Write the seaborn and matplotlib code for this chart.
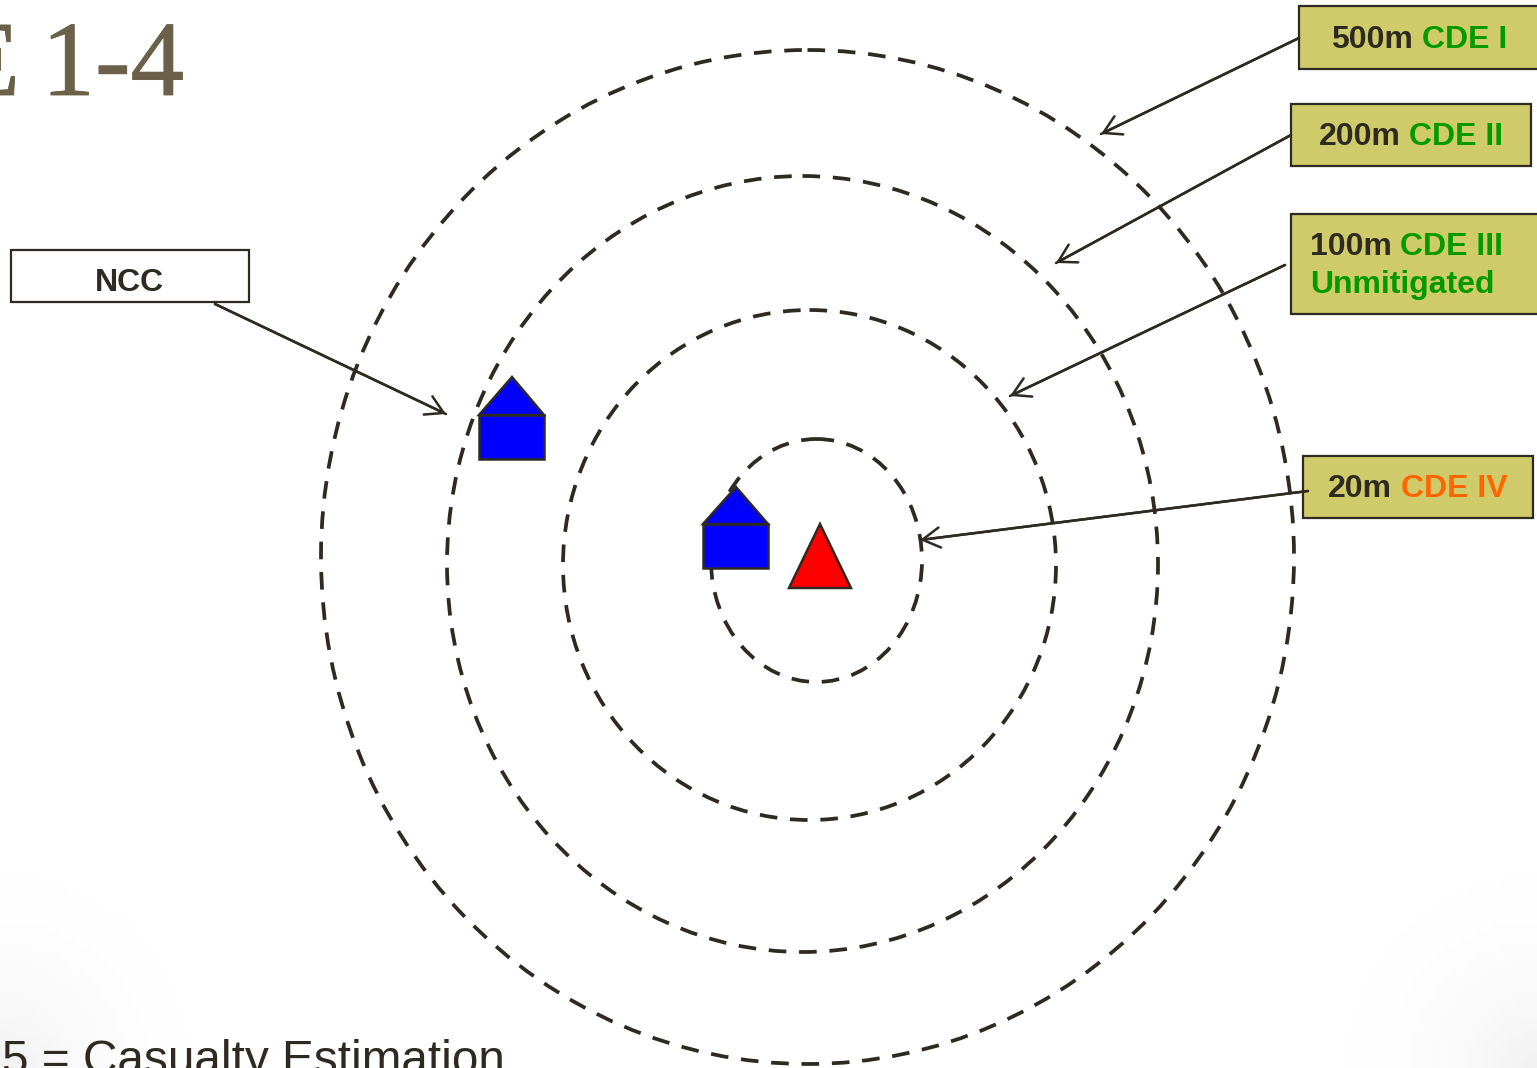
"""CDE ring diagram, drawn in pixel coordinates of the source slide."""

import matplotlib
matplotlib.use("Agg")
import matplotlib.patheffects as pe
import matplotlib.pyplot as plt
import numpy as np
import pandas as pd
import seaborn as sns
from matplotlib.colors import LinearSegmentedColormap
from matplotlib.patches import Ellipse, Polygon, Rectangle

# ── Data ──────────────────────────────────────────────────────────────────────

ring_x = [807.5, 802.5, 809.5, 816.5]
ring_y = [557, 564, 565, 560.5]
ring_rx = [486.5, 355.5, 246.5, 105.5]
ring_ry = [507, 388, 255, 121.5]

box_left = [1299, 1291, 1291, 1303, 11]
box_top = [6, 104, 214, 456, 250]
box_right = [1545, 1531, 1545, 1533, 249]
box_bottom = [69, 166, 314, 518, 302]
box_fill = ["#CFCB6B", "#CFCB6B", "#CFCB6B", "#CFCB6B", "#FFFFFF"]

label_text = ["500m", "CDE I", "200m", "CDE II", "100m", "CDE III", "Unmitigated", "20m", "CDE IV", "NCC"]
label_x = [1331, 1422, 1319, 1409, 1310, 1400, 1310, 1328, 1401, 95]
label_y = [48, 48, 145, 145, 255, 255, 293, 497, 497, 291]
label_color = ["ink", "green", "ink", "green", "ink", "green", "green", "ink", "orange", "ink"]

title_text = ["E", "1-4"]
title_right = [20, 184]

leader_start_x = [1299, 1291, 1285, 1308, 215]
leader_start_y = [38, 135, 265, 491, 304]
leader_tip_x = [1101, 1056, 1010, 920, 446]
leader_tip_y = [134, 263, 396, 540, 414]

house_left = [479, 703]
house_right = [544, 768]
house_eave = [415, 524]
house_floor = [459, 568]
house_apex_x = [512, 736]
house_apex_y = [377, 487]

target_x = [789, 851, 820]
target_y = [588, 588, 524]

INK = "#2F2A20"
COLORS = {"ink": INK, "green": "#009900", "orange": "#FF6600"}

# ── Figure ────────────────────────────────────────────────────────────────────

sns.set_theme(style="white")
plt.rcParams["font.family"] = ["Liberation Sans", "DejaVu Sans"]

fig = plt.figure(figsize=(15.37, 10.68), dpi=100)
ax = fig.add_axes([0, 0, 1, 1])

# faint vignette in the two bottom corners of the slide
xx, yy = np.meshgrid(np.linspace(0, 1537, 200), np.linspace(0, 1068, 140))
corner = np.minimum(np.hypot(xx, yy - 1068), np.hypot(xx - 1537, yy - 1068))
shade = np.clip(1 - corner / 200, 0, 1) ** 2
cmap = LinearSegmentedColormap.from_list("vignette", ["#FFFFFF", "#F2F2F2"])
ax.imshow(shade, extent=(0, 1537, 1068, 0), cmap=cmap, vmin=0, vmax=1, zorder=0, aspect="auto")

for cx, cy, rx, ry in zip(ring_x, ring_y, ring_rx, ring_ry):
    ax.add_patch(Ellipse((cx, cy), 2 * rx, 2 * ry, fill=False, edgecolor=INK,
                         linewidth=2.7, linestyle=(0, (4.7, 3.4)), zorder=2))

for left, top, right, bottom, fill in zip(box_left, box_top, box_right, box_bottom, box_fill):
    ax.add_patch(Rectangle((left, top), right - left, bottom - top, facecolor=fill,
                           edgecolor=INK, linewidth=1.6, zorder=3))

leaders = pd.DataFrame({
    "leader": list(range(5)) * 2,
    "x": leader_start_x + leader_tip_x,
    "y": leader_start_y + leader_tip_y,
})
sns.lineplot(data=leaders, x="x", y="y", units="leader", estimator=None, sort=False,
             color=INK, linewidth=1.8, ax=ax, zorder=4, legend=False)
for sx, sy, tx, ty in zip(leader_start_x, leader_start_y, leader_tip_x, leader_tip_y):
    ax.annotate("", xy=(tx, ty), xytext=(sx, sy), zorder=4,
                arrowprops=dict(arrowstyle="->,head_length=1.0,head_width=0.58", color=INK,
                                linewidth=1.8, shrinkA=0, shrinkB=0, mutation_scale=12.5))

for left, right, eave, floor, apex_x, apex_y in zip(
        house_left, house_right, house_eave, house_floor, house_apex_x, house_apex_y):
    ax.add_patch(Rectangle((left, eave), right - left, floor - eave, facecolor="#0000FF",
                           edgecolor=INK, linewidth=1.8, zorder=5))
    ax.add_patch(Polygon([(left, eave), (right, eave), (apex_x, apex_y)], facecolor="#0000FF",
                         edgecolor=INK, linewidth=1.8, zorder=5))

ax.add_patch(Polygon(list(zip(target_x, target_y)), facecolor="#FF0000", edgecolor=INK,
                     linewidth=1.8, zorder=5))

for text, x, y, color in zip(label_text, label_x, label_y, label_color):
    ax.text(x, y, text, color=COLORS[color], fontsize=23, fontweight="bold",
            ha="left", va="baseline", zorder=6)

for text, right in zip(title_text, title_right):
    title = ax.text(right, 95, text, color="#6B6048", fontsize=77, family="Liberation Serif",
                    ha="right", va="baseline", zorder=6)
    title.set_path_effects([pe.withStroke(linewidth=0.6, foreground="#6B6048")])
ax.text(2, 1074, "5 = Casualty Estimation", color=INK, fontsize=34.4,
        ha="left", va="baseline", zorder=6)

ax.set_xlim(0, 1537)
ax.set_ylim(1068, 0)
ax.set_xlabel("")
ax.set_ylabel("")
ax.set_axis_off()

fig.savefig("out.png", dpi=100)
plt.close(fig)
